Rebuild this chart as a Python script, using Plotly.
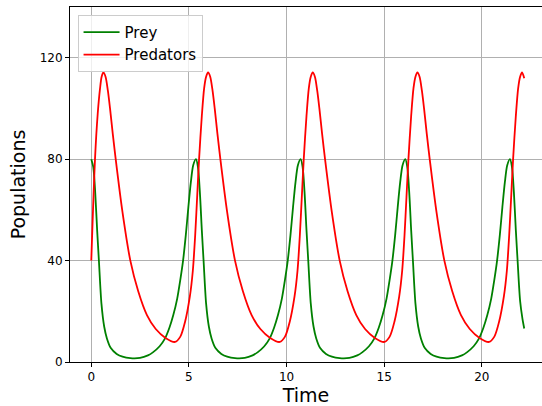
import plotly.graph_objects as go

# Prey series (time, population)
prey_t = [0, 0.1, 0.2, 0.3, 0.39, 0.52, 0.66, 0.8, 1.0, 1.3, 1.6, 2.0, 2.5, 2.9, 3.17, 3.5, 3.77, 4.0, 4.2, 4.4, 4.55, 4.7, 4.84, 4.97, 5.1, 5.22,
          5.36, 5.46, 5.56, 5.66, 5.75, 5.88, 6.02, 6.16, 6.36, 6.66, 6.96, 7.36, 7.86, 8.26, 8.53, 8.86, 9.13, 9.36, 9.56, 9.76, 9.91, 10.06, 10.20, 10.33, 10.46, 10.58,
          10.72, 10.82, 10.92, 11.02, 11.11, 11.24, 11.38, 11.52, 11.72, 12.02, 12.32, 12.72, 13.22, 13.62, 13.89, 14.22, 14.49, 14.72, 14.92, 15.12, 15.27, 15.42, 15.56, 15.69, 15.82, 15.94,
          16.08, 16.18, 16.28, 16.38, 16.47, 16.60, 16.74, 16.88, 17.08, 17.38, 17.68, 18.08, 18.58, 18.98, 19.25, 19.58, 19.85, 20.08, 20.28, 20.48, 20.63, 20.78, 20.92, 21.05, 21.18, 21.30,
          21.44, 21.54, 21.64, 21.74, 21.83, 21.96, 22.08, 22.17]
prey_v = [80, 77, 67, 52, 40, 23, 14, 9.3, 5.5, 3.2, 2.1, 1.5, 1.6, 2.6, 3.9, 6.2, 9.2, 13.5, 18.5, 25, 32, 40, 50, 61, 71, 77.6,
          80, 77, 67, 52, 40, 23, 14, 9.3, 5.5, 3.2, 2.1, 1.5, 1.6, 2.6, 3.9, 6.2, 9.2, 13.5, 18.5, 25, 32, 40, 50, 61, 71, 77.6,
          80, 77, 67, 52, 40, 23, 14, 9.3, 5.5, 3.2, 2.1, 1.5, 1.6, 2.6, 3.9, 6.2, 9.2, 13.5, 18.5, 25, 32, 40, 50, 61, 71, 77.6,
          80, 77, 67, 52, 40, 23, 14, 9.3, 5.5, 3.2, 2.1, 1.5, 1.6, 2.6, 3.9, 6.2, 9.2, 13.5, 18.5, 25, 32, 40, 50, 61, 71, 77.6,
          80, 77, 67, 52, 40, 24, 17, 13.2]

# Predator series
pred_t = [0, 0.19, 0.33, 0.45, 0.53, 0.62, 0.73, 0.85, 0.96, 1.1, 1.25, 1.6, 2.0, 2.4, 2.85, 3.3, 3.8, 4.29, 4.56, 4.8, 5.05, 5.2, 5.32,
          5.42, 5.52, 5.66, 5.78, 5.88, 5.98, 6.09, 6.21, 6.32, 6.46, 6.61, 6.96, 7.36, 7.76, 8.21, 8.66, 9.16, 9.65, 9.92, 10.16, 10.41, 10.56, 10.68,
          10.78, 10.88, 11.02, 11.14, 11.24, 11.34, 11.45, 11.57, 11.68, 11.82, 11.97, 12.32, 12.72, 13.12, 13.57, 14.02, 14.52, 15.01, 15.28, 15.52, 15.77, 15.92, 16.04,
          16.14, 16.24, 16.38, 16.50, 16.60, 16.70, 16.81, 16.93, 17.04, 17.18, 17.33, 17.68, 18.08, 18.48, 18.93, 19.38, 19.88, 20.37, 20.64, 20.88, 21.13, 21.28, 21.40,
          21.50, 21.60, 21.74, 21.86, 21.96, 22.06, 22.17]
pred_v = [40, 80, 98, 108, 112.5, 114.2, 112.5, 107, 100, 90, 80, 59, 40, 28, 18.5, 13, 9.5, 7.9, 10, 15.8, 26, 36, 50,
          65, 80, 97, 108, 112.5, 114.2, 112.5, 107, 100, 90, 80, 59, 40, 28, 18.5, 13, 9.5, 7.9, 10, 15.8, 26, 36, 50,
          65, 80, 97, 108, 112.5, 114.2, 112.5, 107, 100, 90, 80, 59, 40, 28, 18.5, 13, 9.5, 7.9, 10, 15.8, 26, 36, 50,
          65, 80, 97, 108, 112.5, 114.2, 112.5, 107, 100, 90, 80, 59, 40, 28, 18.5, 13, 9.5, 7.9, 10, 15.8, 26, 36, 50,
          65, 80, 97, 108, 112.5, 114.2, 111.9]

x_ticks = [0, 5, 10, 15, 20]
y_ticks = [0, 40, 80, 120]

FONT = "DejaVu Sans"

fig = go.Figure()
fig.add_trace(go.Scatter(x=prey_t, y=prey_v, mode="lines", name="Prey",
                         line=dict(color="#008000", width=1.8, shape="spline", smoothing=0.8)))
fig.add_trace(go.Scatter(x=pred_t, y=pred_v, mode="lines", name="Predators",
                         line=dict(color="#ff0000", width=1.8, shape="spline", smoothing=0.8)))

fig.update_layout(
    width=542, height=406,
    margin=dict(l=70, r=0, t=7, b=44),
    paper_bgcolor="white", plot_bgcolor="white",
    font=dict(family=FONT, size=12, color="black"),
    showlegend=True,
    legend=dict(x=0.016, y=0.978, xanchor="left", yanchor="top",
                bgcolor="rgba(255,255,255,0.8)", bordercolor="#cccccc", borderwidth=1,
                font=dict(family=FONT, size=15, color="black"),
                itemwidth=36, tracegroupgap=0),
    xaxis=dict(range=[-1.09, 23.08], tickvals=x_ticks, ticktext=[str(v) for v in x_ticks],
               showgrid=True, gridcolor="#b0b0b0", gridwidth=0.8,
               showline=True, linecolor="black", linewidth=1, mirror=True,
               ticks="outside", ticklen=4, tickcolor="black", zeroline=False,
               title=dict(text="Time", font=dict(family=FONT, size=19), standoff=5)),
    yaxis=dict(range=[0, 140], tickvals=y_ticks, ticktext=[str(v) for v in y_ticks],
               showgrid=True, gridcolor="#b0b0b0", gridwidth=0.8,
               showline=True, linecolor="black", linewidth=1, mirror=False,
               ticks="outside", ticklen=4, tickcolor="black", zeroline=False,
               title=dict(text="Populations", font=dict(family=FONT, size=19), standoff=9)),
)

fig.write_html("out.html")
